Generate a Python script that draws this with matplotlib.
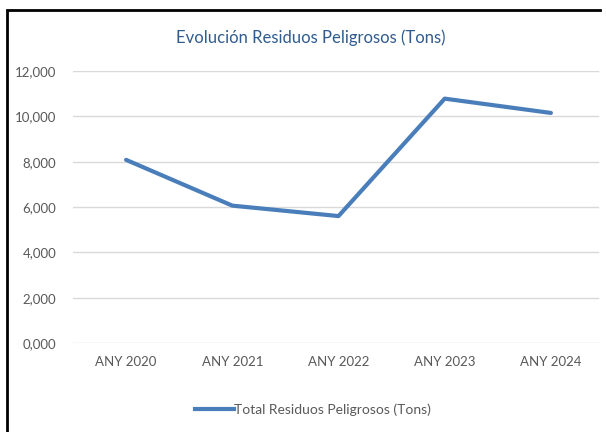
import matplotlib.pyplot as plt
from matplotlib.lines import Line2D

# data
years = ["ANY 2020", "ANY 2021", "ANY 2022", "ANY 2023", "ANY 2024"]
residuos = [8080, 6060, 5600, 10780, 10150]
yticks = [0, 2000, 4000, 6000, 8000, 10000, 12000]
ytick_labels = ["0,000", "2,000", "4,000", "6,000", "8,000", "10,000", "12,000"]

plt.rcParams['font.family'] = ['Lato', 'DejaVu Sans']
txt = '#595959'
blue = '#4A7EBB'

fig = plt.figure(figsize=(6.06, 4.32), dpi=100)

# outer chart frame: only its left and top edges fall inside the crop
fx, fy = 7 / 606, 1 - 10 / 432
fig.add_artist(Line2D([fx, fx, 0.99], [0.001, fy, fy], transform=fig.transFigure,
                      color='black', linewidth=2, solid_joinstyle='miter'))

ax = fig.add_axes([73 / 606, 1 - 343 / 432, 531 / 606, 272 / 432])
x = range(len(years))

# gridlines stop a little short of the right edge
for v in yticks:
    ax.axhline(v, xmax=(598 - 73) / 531, color='#D9D9D9', linewidth=1, zorder=0)

ax.plot(x, residuos, color=blue, linewidth=3, solid_capstyle='round',
        label="Total Residuos Peligrosos (Tons)")

ax.set_xlim(-0.5, len(years) - 0.5)
ax.set_ylim(0, 12000)
ax.set_xticks(list(x))
ax.set_xticklabels(years)
ax.set_yticks(yticks)
ax.set_yticklabels(ytick_labels)
ax.tick_params(length=0, labelsize=9.5, colors=txt)
ax.tick_params(axis='y', pad=12)
ax.tick_params(axis='x', pad=9)
for s in ax.spines.values():
    s.set_visible(False)

fig.text(311 / 606, 1 - 38 / 432, "Evolución Residuos Peligrosos (Tons)",
         ha='center', va='center', fontsize=12, color='#2F5B8F')

handle = Line2D([], [], color=blue, linewidth=3)
fig.legend([handle], ["Total Residuos Peligrosos (Tons)"],
           loc='center', bbox_to_anchor=(313 / 606, 1 - 410 / 432),
           frameon=False, fontsize=10, labelcolor=txt,
           handlelength=2.8, handletextpad=0.0)

fig.savefig("out.png", dpi=100, facecolor='white')
